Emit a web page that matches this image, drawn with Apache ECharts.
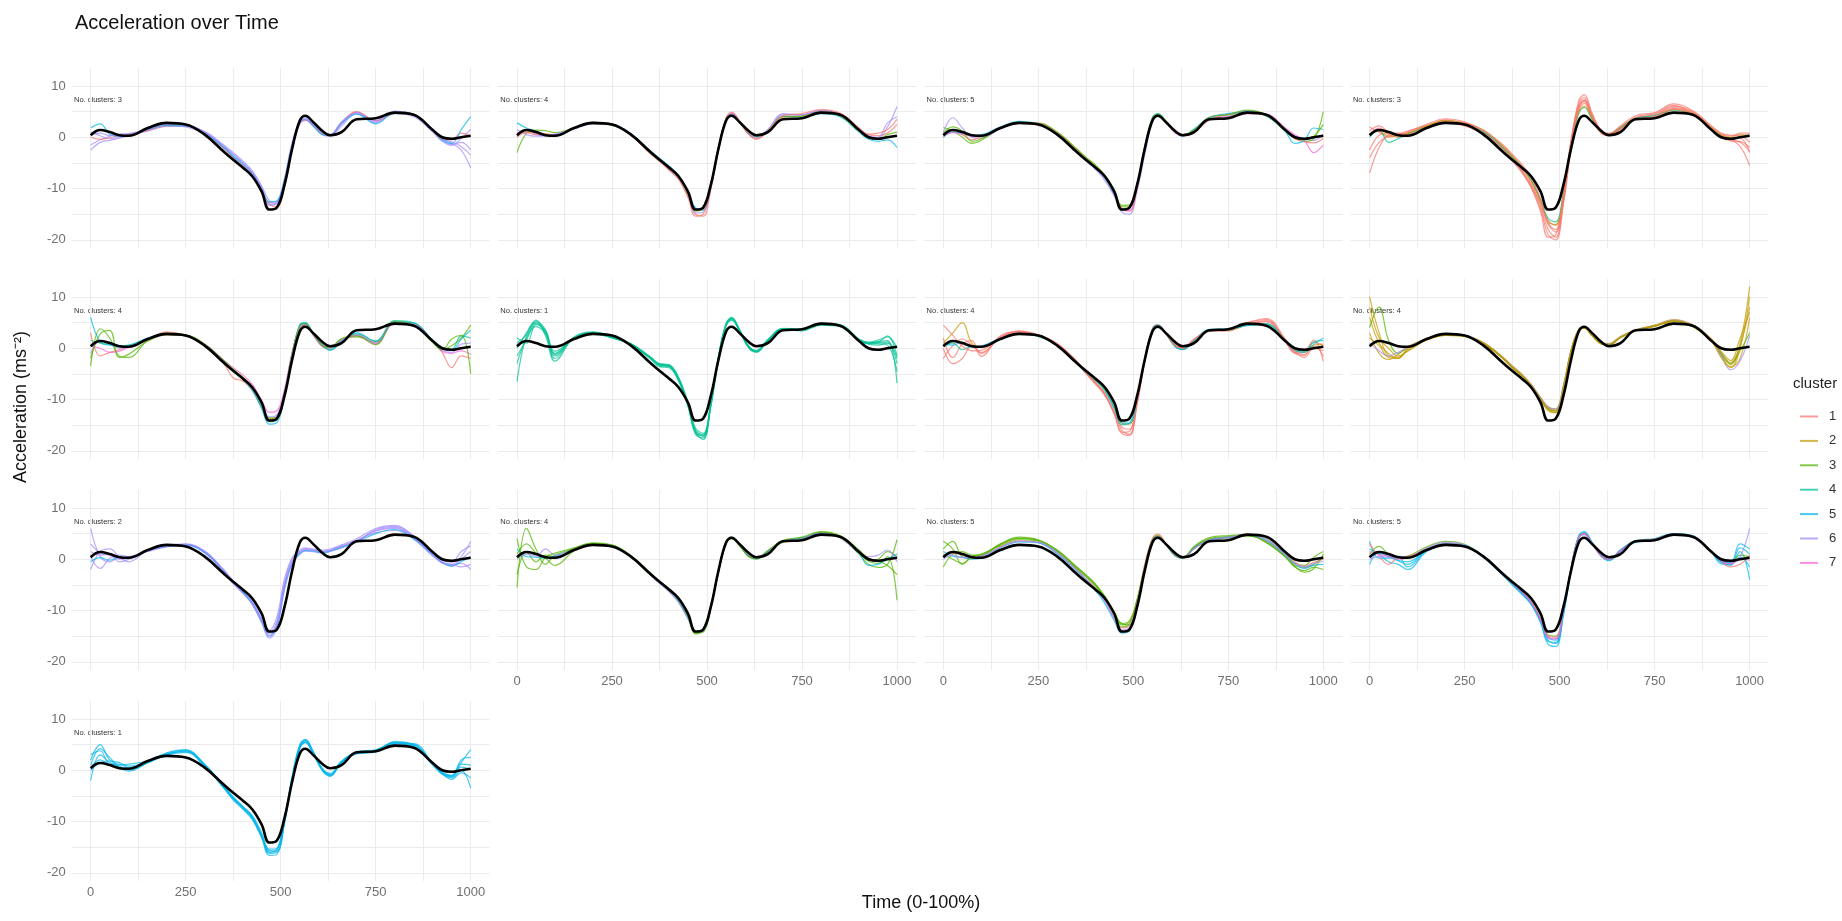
<!DOCTYPE html>
<html>
<head>
<meta charset="utf-8">
<title>Acceleration over Time</title>
<script src="https://cdn.jsdelivr.net/npm/echarts@6/dist/echarts.min.js"></script>
<style>
  html, body { margin: 0; padding: 0; background: #ffffff; }
  #chart { width: 1842px; height: 921px; }
</style>
</head>
<body>
<div id="chart"></div>
<script>
// Normalised time (0-1000) at which every curve is sampled
const timePoints = [0,25,50,75,100,150,200,250,300,350,375,400,425,450,470,490,510,530,550,565,585,610,630,660,700,750,800,850,900,925,950,975,1000];

// Overall mean acceleration curve (black line, same in every panel)
const meanCurve = [0.4,1.4,1.0,0.4,0.3,1.8,2.8,2.5,0.5,-2.8,-4.4,-5.9,-7.6,-10.6,-14.1,-13.7,-9.3,-2.3,3.2,4.2,3.0,1.2,0.4,1.0,3.5,3.7,4.8,4.4,1.4,0.0,-0.3,0.0,0.3];

const clusterIds = ['1','2','3','4','5','6','7'];
const clusterColors = ['#F8766D','#C49A00','#53B400','#00C094','#00B6EB','#A58AFF','#FB61D7'];
const clusterCounts = [3,4,5,3,4,1,4,4,2,4,5,5,1];

const xLabelTicks = [0,250,500,750,1000];
const xGridTicks = [0,125,250,375,500,625,750,875,1000];
const yLabelTicks = [-20,-10,0,10];
const yGridTicks = [-20,-15,-10,-5,0,5,10];

// Per-panel curves: [cluster, values at timePoints]
const panel01 = [
  [6,[-1.5,-0.5,0.2,0.5,0.6,1.4,2.3,2.2,0.9,-1.8,-3.4,-5.0,-6.8,-9.8,-12.8,-12.5,-8.5,-1.5,2.8,3.6,2.5,0.6,0.3,2.6,4.8,3.2,4.9,4.3,1.2,-0.6,-1.4,-1.0,-2.5]],
  [6,[1.0,0.3,-0.3,0.0,0.4,1.6,2.4,2.0,0.7,-2.0,-3.8,-5.4,-7.2,-10.4,-13.3,-12.8,-8.0,-1.0,3.0,3.8,2.8,0.9,0.5,3.0,4.9,2.8,4.6,4.0,1.0,-0.8,-1.6,-0.2,1.5]],
  [6,[-2.5,-1.0,-0.6,-0.2,0.3,1.2,2.1,2.1,1.1,-1.5,-3.0,-4.6,-6.5,-9.5,-12.4,-12.9,-9.0,-2.0,2.5,3.3,2.2,0.5,0.2,2.2,4.6,3.0,5.0,4.5,1.5,-0.3,-1.2,-2.5,-6.0]],
  [1,[0.0,-0.4,-0.1,0.3,0.5,1.3,2.2,2.3,0.8,-2.2,-4.0,-5.6,-7.5,-10.8,-13.0,-13.6,-9.6,-2.5,2.6,3.4,2.4,0.7,0.3,2.8,5.0,3.2,4.7,4.2,1.3,-0.4,-0.5,0.8,0.2]],
  [5,[1.8,2.6,0.6,0.2,0.3,1.5,2.3,2.2,0.8,-2.0,-3.7,-5.2,-7.0,-10.0,-12.6,-12.4,-8.3,-1.6,2.9,3.5,2.3,0.5,0.4,2.7,4.5,2.6,4.8,4.3,1.4,-0.5,-1.2,1.5,4.0]],
  [6,[0.5,0.8,0.3,0.6,0.7,1.6,2.5,2.4,1.0,-1.7,-3.3,-4.9,-6.9,-10.1,-13.1,-12.9,-8.8,-1.8,2.7,3.5,2.6,0.8,0.5,2.9,4.7,3.3,5.1,4.4,1.6,-0.2,-0.9,-1.8,-3.5]]
];
const panel02 = [
  [1,[0.8,1.0,0.8,0.5,0.5,1.9,2.8,2.4,0.4,-3.0,-4.6,-6.3,-8.1,-11.5,-15.0,-15.4,-10.2,-2.5,3.6,4.7,3.2,0.6,-0.3,1.2,3.9,4.2,5.0,4.6,1.8,0.5,0.3,0.8,2.5]],
  [6,[0.2,1.5,0.6,0.2,0.4,1.7,2.7,2.5,0.6,-2.7,-4.2,-5.8,-7.6,-10.8,-14.2,-14.0,-9.0,-1.9,3.4,4.4,3.0,0.8,0.1,1.4,4.4,4.3,5.3,4.4,1.4,0.1,-0.2,2.0,6.0]],
  [5,[2.8,1.8,1.2,0.5,0.4,1.8,2.9,2.6,0.7,-2.6,-4.1,-5.6,-7.4,-10.6,-13.8,-14.2,-9.5,-2.0,3.3,4.5,3.2,1.0,0.2,1.1,4.1,3.9,4.6,4.0,1.0,-0.4,-0.8,-0.5,-2.0]],
  [3,[-3.0,0.8,1.4,1.3,0.9,1.8,2.6,2.3,0.5,-3.1,-4.5,-6.0,-7.8,-11.2,-14.4,-14.0,-9.2,-2.2,3.5,4.3,2.9,0.6,0.0,1.3,4.0,4.1,5.0,4.2,1.2,0.2,-0.4,0.5,1.0]],
  [6,[1.5,0.5,0.2,0.4,0.6,1.6,2.6,2.4,0.6,-2.9,-4.4,-6.1,-7.9,-11.0,-14.8,-14.6,-9.8,-2.4,3.2,4.6,3.1,0.7,-0.1,1.5,4.6,4.4,5.2,4.5,1.6,0.3,0.0,2.8,4.0]],
  [1,[0.0,0.9,0.5,0.7,0.3,1.9,2.9,2.6,0.4,-3.2,-4.7,-6.4,-8.2,-11.8,-15.4,-15.0,-9.9,-2.6,3.7,4.9,3.3,0.5,-0.4,1.2,4.2,4.6,5.4,4.7,1.7,0.6,0.8,1.5,3.5]]
];
const panel03 = [
  [6,[1.0,3.8,1.8,0.0,-0.2,1.6,2.8,2.6,0.6,-2.7,-4.6,-6.2,-8.4,-11.5,-14.6,-15.0,-10.5,-3.5,2.8,4.2,3.0,1.1,0.3,1.4,3.9,4.3,5.2,4.3,1.5,0.3,-0.4,-0.6,0.5]],
  [3,[1.9,1.2,0.0,-1.2,-0.6,1.9,2.9,2.7,0.8,-2.4,-4.0,-5.4,-7.4,-10.3,-13.3,-13.2,-9.2,-2.0,3.8,4.4,2.9,1.0,0.4,1.5,3.6,4.0,5.0,4.1,1.3,-0.2,-0.8,-0.3,5.0]],
  [1,[0.5,1.5,0.5,-0.5,0.1,1.7,2.7,2.8,0.9,-2.3,-4.2,-5.8,-7.9,-11.0,-13.8,-14.4,-10.0,-2.8,3.3,4.3,3.1,0.9,0.5,1.1,3.3,4.5,4.9,4.4,1.4,-0.3,-0.9,-1.1,-0.2]],
  [5,[0.0,1.0,0.8,0.4,0.5,2.0,3.1,2.6,0.5,-2.8,-4.4,-6.0,-8.0,-11.2,-14.0,-13.8,-9.6,-2.4,3.6,4.6,3.2,1.0,0.2,1.6,3.8,4.6,5.0,4.2,1.1,-1.2,-0.6,1.8,1.5]],
  [7,[0.2,0.9,0.6,0.2,0.3,1.8,2.7,2.5,0.6,-2.9,-4.5,-6.0,-7.8,-11.0,-14.2,-14.3,-9.7,-2.6,3.2,4.1,2.9,0.8,0.3,1.2,3.5,4.0,4.6,4.5,1.8,0.5,-0.6,-3.0,-1.5]],
  [3,[0.8,2.0,1.2,-0.8,-0.3,1.7,2.8,2.7,1.0,-2.2,-3.9,-5.5,-7.6,-10.8,-13.5,-13.6,-9.0,-1.8,3.5,4.5,3.3,1.1,0.5,1.4,3.9,4.4,5.3,4.4,1.2,-0.1,-0.5,0.2,2.5]]
];
const panel04 = [
  [1,[-7.0,-2.0,0.5,0.8,0.6,2.0,3.0,2.6,1.2,-2.0,-4.0,-6.2,-9.0,-13.5,-18.0,-19.5,-12.0,-1.0,6.5,7.8,4.5,1.0,0.6,1.8,3.6,4.0,5.6,4.8,2.0,0.6,-0.4,-1.8,-5.5]],
  [1,[0.5,1.8,0.6,0.0,0.8,2.2,3.2,2.4,0.8,-2.5,-4.4,-6.6,-9.4,-13.0,-17.0,-18.5,-12.8,-2.0,5.5,7.0,4.0,0.8,0.5,1.5,3.8,4.2,6.0,5.0,1.6,0.0,-0.7,-0.8,-2.0]],
  [1,[2.0,1.0,0.0,0.6,1.2,2.3,3.1,2.8,1.0,-1.6,-3.5,-5.6,-8.2,-12.4,-16.2,-17.2,-11.0,-0.5,6.0,7.4,4.2,1.2,0.8,2.0,3.9,4.6,6.2,4.6,1.8,0.5,0.2,0.8,0.8]],
  [1,[-2.5,0.4,0.8,0.3,0.7,2.1,3.4,2.6,0.8,-2.2,-4.2,-6.5,-9.6,-14.0,-19.0,-20.0,-13.0,-2.3,5.0,6.6,3.8,0.7,0.3,1.6,3.7,4.4,5.8,4.8,1.7,0.2,-0.2,-0.2,-3.0]],
  [4,[0.0,1.5,-1.0,-0.3,0.6,2.0,2.9,2.4,1.0,-2.0,-3.8,-5.8,-8.4,-12.2,-15.8,-16.5,-10.6,-1.5,4.6,5.8,3.6,1.0,0.6,1.9,3.7,4.2,5.3,4.5,1.5,0.2,-0.5,0.0,0.2]],
  [2,[0.6,1.2,0.2,0.3,0.7,2.2,3.3,2.7,1.4,-1.8,-3.7,-5.8,-8.6,-12.6,-16.5,-17.0,-11.2,-1.2,4.8,6.0,3.7,0.9,0.6,1.7,3.6,3.8,5.4,4.6,1.8,0.4,0.0,0.5,0.4]],
  [1,[1.2,2.2,1.0,0.5,1.0,2.5,3.6,3.0,1.3,-1.4,-3.3,-5.2,-7.8,-12.0,-16.8,-18.0,-12.2,-1.2,7.0,8.3,4.8,1.3,0.7,2.2,4.2,4.8,6.5,5.2,2.2,0.8,0.4,0.3,-1.0]],
  [1,[-4.0,-1.0,0.2,0.7,0.5,1.9,2.8,2.2,0.6,-2.6,-4.6,-6.8,-9.8,-14.5,-19.5,-19.0,-11.5,-1.8,5.8,7.2,4.3,0.9,0.4,1.6,3.5,4.0,5.5,4.4,1.4,0.1,-0.6,-1.0,-2.8]]
];
const panel05 = [
  [3,[-3.5,3.8,2.0,-1.5,-1.8,1.5,2.8,2.6,0.7,-2.5,-4.2,-5.8,-7.8,-11.0,-13.8,-13.5,-8.8,-1.0,4.2,4.8,2.8,0.6,0.2,1.8,2.2,1.2,5.0,4.8,1.4,-0.2,0.5,2.0,4.5]],
  [1,[3.0,-1.5,-0.8,-0.3,0.4,1.8,3.2,2.5,0.4,-3.0,-5.8,-6.4,-8.2,-11.6,-13.8,-13.2,-8.5,-1.2,4.0,4.5,2.6,0.3,-0.2,1.5,2.6,1.0,4.8,4.6,1.2,-0.8,-3.8,-1.5,-2.0]],
  [5,[6.0,1.2,0.6,0.3,0.5,2.0,2.8,2.4,0.5,-2.8,-4.5,-6.0,-8.2,-11.8,-14.8,-14.5,-9.4,-1.6,4.6,5.0,3.0,0.6,-0.4,1.2,3.0,1.4,5.2,4.9,1.6,0.0,-0.4,1.8,3.5]],
  [7,[0.4,0.0,-0.8,-0.6,0.2,1.6,2.6,2.4,0.8,-2.3,-3.8,-5.2,-7.0,-10.2,-12.5,-12.2,-8.0,-0.8,4.0,4.6,2.6,0.4,0.2,1.6,2.4,0.8,4.8,4.6,1.3,-0.6,-1.0,-0.5,-1.2]],
  [4,[1.5,1.0,0.8,0.5,0.6,1.9,2.9,2.5,0.6,-2.6,-4.3,-5.9,-7.9,-11.3,-14.3,-14.0,-9.0,-1.3,4.4,4.9,2.9,0.5,-0.3,1.4,2.8,1.4,5.4,5.0,1.5,0.2,-0.2,2.4,2.0]],
  [6,[-1.0,1.5,1.2,0.0,0.2,1.7,2.7,2.4,0.7,-2.6,-4.4,-5.9,-7.8,-10.8,-13.4,-13.0,-8.5,-1.1,4.1,4.6,2.7,0.5,0.0,1.6,2.6,1.0,5.0,4.7,1.4,-0.4,-0.8,0.8,1.0]],
  [3,[-2.0,2.8,3.5,-1.8,-1.2,1.4,2.6,2.5,0.8,-2.4,-4.1,-5.6,-7.6,-10.9,-13.6,-13.6,-9.0,-1.2,4.3,4.8,2.8,0.5,0.1,1.9,2.4,0.7,5.2,4.5,1.1,-0.3,1.8,2.5,-5.0]]
];
const panel06 = [
  [4,[-6.5,2.5,5.0,3.0,-1.5,2.0,3.0,2.0,0.8,-1.8,-3.2,-3.4,-6.0,-11.0,-16.2,-17.2,-11.0,-2.0,4.5,5.8,3.5,0.2,-0.6,1.5,3.8,3.6,4.7,4.4,1.6,1.0,1.3,1.5,-6.8]],
  [4,[0.0,3.0,5.5,2.4,-2.5,2.2,3.2,2.2,0.6,-2.0,-3.6,-3.8,-6.4,-11.4,-16.8,-17.5,-11.5,-2.5,4.3,5.5,3.4,0.0,-0.8,1.4,3.6,3.4,4.5,4.2,1.4,0.8,0.6,1.0,-3.0]],
  [4,[2.0,1.0,4.6,3.4,-0.6,1.8,2.8,2.0,0.9,-1.6,-3.0,-3.2,-5.6,-10.6,-15.6,-16.6,-10.6,-1.6,4.8,6.0,3.8,0.4,-0.4,1.7,3.9,3.8,4.8,4.6,1.8,1.2,1.6,2.2,0.0]],
  [4,[-3.0,2.0,4.2,2.8,-1.0,2.1,2.9,2.1,0.7,-1.9,-3.4,-3.6,-6.2,-11.2,-16.4,-17.8,-11.2,-1.8,4.6,5.7,3.6,0.1,-0.7,1.6,3.7,3.5,4.6,4.3,1.5,0.9,0.9,0.6,-4.5]],
  [4,[1.0,2.6,5.2,3.6,-1.2,1.9,3.1,2.3,0.8,-1.7,-3.1,-3.3,-5.8,-10.8,-16.0,-16.9,-10.8,-1.7,4.7,5.9,3.6,0.3,-0.5,1.5,3.8,3.7,4.9,4.5,1.7,1.1,1.2,2.4,-1.5]],
  [4,[-1.5,1.6,4.8,3.2,-2.0,2.0,3.0,2.1,0.8,-1.8,-3.3,-3.5,-6.0,-11.0,-16.6,-17.0,-11.0,-2.1,4.4,5.6,3.5,0.2,-0.6,1.5,3.7,3.6,4.6,4.4,1.5,0.9,1.1,1.2,-2.0]]
];
const panel07 = [
  [1,[0.0,-3.0,-2.0,0.5,-1.0,2.2,3.4,2.6,0.8,-2.4,-4.6,-6.6,-8.8,-12.4,-16.0,-16.8,-10.8,-2.2,3.6,4.4,3.0,0.6,0.0,1.6,3.5,3.6,4.9,5.6,1.6,-0.8,-1.2,0.4,-1.5]],
  [1,[2.0,-1.8,0.8,1.5,-1.6,2.4,3.2,2.4,0.7,-2.6,-4.8,-6.8,-9.0,-12.8,-16.4,-16.2,-10.2,-2.0,3.8,4.6,3.1,0.8,0.2,1.8,3.3,3.4,4.6,5.4,1.4,-1.0,-1.4,1.2,0.5]],
  [1,[-2.0,0.5,1.8,0.6,-0.8,2.0,3.1,2.5,0.6,-2.7,-4.9,-7.0,-9.2,-12.6,-15.4,-15.8,-10.4,-2.6,3.4,4.2,2.8,0.4,-0.2,1.5,3.4,3.7,4.7,5.2,1.2,-0.9,-0.6,1.6,-2.5]],
  [2,[1.0,3.0,5.0,1.0,0.2,1.8,2.9,2.4,0.5,-2.8,-4.5,-6.2,-8.1,-11.6,-14.6,-14.8,-9.8,-2.4,3.4,4.3,2.9,0.5,0.0,1.4,3.6,3.5,4.6,4.8,1.5,-0.4,-0.8,0.6,0.8]],
  [4,[0.5,1.0,-0.3,0.4,0.3,1.8,2.8,2.3,0.5,-2.9,-4.7,-6.3,-8.3,-11.8,-14.9,-14.6,-9.6,-2.3,3.5,4.4,3.0,0.4,-0.3,1.3,3.4,3.6,4.5,4.6,1.3,-0.2,-0.6,1.2,1.5]],
  [5,[0.8,0.6,1.2,0.2,0.4,1.9,2.9,2.5,0.6,-2.7,-4.5,-6.1,-8.0,-11.5,-14.5,-14.6,-9.7,-2.1,3.6,4.5,3.0,0.3,-0.2,1.5,3.7,3.8,4.4,4.8,1.4,-0.5,-0.8,0.8,2.0]],
  [1,[4.5,2.5,0.4,-0.5,-0.4,2.1,3.3,2.6,0.9,-2.5,-4.7,-6.7,-8.9,-12.8,-16.6,-17.0,-11.0,-2.8,3.3,4.3,2.9,0.5,0.1,1.7,3.5,3.7,5.0,5.8,1.8,-0.6,-1.8,0.0,-0.5]]
];
const panel08 = [
  [2,[10.0,3.0,-1.5,-1.8,-0.5,1.8,2.6,2.4,1.0,-1.8,-3.6,-5.2,-7.2,-9.8,-11.6,-12.0,-7.5,-0.5,3.6,4.0,2.6,1.0,0.8,2.2,3.5,4.4,5.4,4.4,1.6,-1.2,-3.2,1.0,12.0]],
  [2,[6.0,1.0,-1.0,-2.0,-0.2,1.6,2.5,2.3,0.9,-2.0,-3.8,-5.4,-7.4,-10.0,-12.0,-12.5,-8.0,-0.8,3.4,3.9,2.4,0.8,0.6,2.0,3.4,4.2,5.2,4.2,1.3,-1.5,-3.6,-2.0,6.0]],
  [2,[3.0,-1.0,-2.2,-1.2,0.3,1.9,2.7,2.4,1.1,-1.7,-3.4,-5.0,-7.0,-9.6,-11.4,-11.8,-7.2,-0.4,3.7,4.1,2.7,1.1,0.9,2.3,3.6,4.5,5.6,4.6,1.8,-0.8,-2.8,0.5,8.0]],
  [3,[4.0,8.0,1.5,-1.0,0.1,1.7,2.6,2.3,0.8,-1.9,-3.7,-5.3,-7.3,-9.9,-11.8,-12.2,-7.7,-0.6,3.5,4.0,2.5,0.9,0.7,2.1,3.4,4.3,5.3,4.3,1.5,-1.0,-3.0,-0.5,3.0]],
  [6,[1.0,-0.5,-1.5,-0.8,0.2,1.8,2.7,2.5,1.0,-1.8,-3.5,-5.1,-7.1,-9.7,-11.5,-11.9,-7.4,-0.5,3.6,4.0,2.6,1.0,0.8,2.2,3.5,4.4,5.5,4.5,1.6,-1.4,-4.2,-2.5,2.5]],
  [2,[8.0,2.0,0.0,-1.5,-0.6,1.6,2.5,2.3,0.9,-1.9,-3.7,-5.3,-7.3,-10.0,-12.2,-12.6,-8.2,-0.8,3.5,3.9,2.5,0.9,0.7,2.1,3.4,4.3,5.3,4.3,1.4,-1.8,-3.8,0.0,10.0]],
  [2,[2.0,0.5,-1.8,-2.0,0.0,1.7,2.6,2.4,1.0,-1.8,-3.6,-5.2,-7.2,-9.9,-11.8,-12.3,-7.8,-0.6,3.5,4.0,2.6,0.9,0.7,2.2,3.5,4.4,5.4,4.4,1.6,-0.6,-2.4,2.0,7.0]]
];
const panel09 = [
  [6,[6.0,0.5,-0.5,0.3,0.2,1.6,2.6,2.9,1.4,-2.4,-4.6,-6.4,-8.5,-12.0,-14.6,-12.5,-5.0,-0.5,1.2,1.8,1.7,1.4,1.6,2.4,3.5,5.5,6.0,4.2,0.8,-0.5,-1.0,0.5,3.5]],
  [6,[-2.0,1.5,2.0,0.5,-0.5,1.7,2.5,2.8,1.2,-2.6,-4.8,-6.6,-8.8,-12.4,-15.4,-13.5,-6.0,-1.0,1.0,1.6,1.5,1.2,1.5,2.2,3.3,5.8,6.4,4.6,1.0,-0.8,-1.2,-0.8,-2.0]],
  [6,[0.5,-1.8,0.2,0.8,0.5,1.5,2.4,2.7,1.5,-2.2,-4.4,-6.2,-8.3,-11.8,-14.2,-12.0,-4.5,0.0,1.5,2.0,1.9,1.6,1.8,2.6,3.7,5.2,5.6,3.9,0.6,-0.6,-1.4,0.0,1.5]],
  [6,[1.5,0.8,1.0,-0.5,0.0,1.8,2.7,3.0,1.6,-2.0,-4.2,-6.0,-8.0,-11.5,-13.8,-11.2,-3.8,0.3,1.8,2.2,2.0,1.8,2.0,2.8,4.0,6.0,6.6,4.4,1.2,-0.2,-0.6,1.5,2.6]],
  [5,[-0.5,0.3,-0.2,0.4,0.3,1.7,2.5,2.8,1.3,-2.3,-4.5,-6.3,-8.6,-12.2,-15.0,-13.0,-5.5,-0.8,1.1,1.7,1.6,1.3,1.6,2.3,3.4,5.0,5.8,4.0,0.9,-0.7,-1.3,-0.5,0.5]],
  [6,[3.0,1.2,0.8,0.0,0.4,1.6,2.6,2.9,1.5,-2.3,-4.6,-6.6,-8.7,-12.1,-15.0,-12.8,-5.2,-0.6,1.4,1.9,1.8,1.5,1.7,2.5,3.6,5.6,6.2,4.3,0.9,-0.7,-1.0,-1.5,-1.0]]
];
const panel10 = [
  [3,[-5.5,6.0,2.0,-1.0,0.8,2.0,3.0,2.6,0.4,-3.0,-4.6,-6.2,-8.3,-11.6,-14.6,-13.8,-9.2,-2.4,3.2,4.2,2.8,0.6,0.1,1.5,3.4,4.0,5.2,4.4,1.4,-0.4,-0.8,0.5,-8.0]],
  [3,[1.0,3.0,1.2,0.2,-1.2,1.6,2.9,2.7,0.5,-2.9,-4.5,-6.0,-8.0,-11.2,-14.2,-13.8,-9.4,-2.6,3.3,4.3,2.9,0.8,0.3,1.6,3.6,4.1,5.0,4.2,1.0,-1.0,-1.6,-1.0,3.8]],
  [3,[-3.0,1.5,-0.5,0.8,0.5,2.1,3.1,2.7,0.6,-2.8,-4.4,-5.9,-7.8,-11.0,-14.0,-13.6,-9.0,-2.2,3.4,4.0,2.7,0.5,0.0,1.4,3.3,3.9,5.3,4.5,1.6,-0.2,0.0,1.5,0.5]],
  [5,[2.0,0.5,0.4,0.2,0.6,1.9,2.9,2.5,0.5,-2.9,-4.6,-6.1,-8.1,-11.4,-14.2,-14.0,-9.4,-2.3,3.2,4.1,2.8,0.6,0.1,1.5,3.5,4.2,5.0,4.3,1.2,-1.2,-1.0,0.0,1.0]],
  [6,[0.0,1.0,0.6,2.0,0.8,1.8,2.8,2.6,0.5,-3.0,-4.7,-6.3,-8.4,-11.6,-14.1,-13.9,-9.3,-2.5,3.3,4.2,2.9,0.7,0.2,1.6,3.5,4.0,5.1,4.2,1.3,0.5,0.8,1.8,-0.5]],
  [3,[4.0,-1.5,-2.0,0.4,1.2,2.2,3.2,2.8,0.7,-2.6,-4.3,-5.8,-7.7,-11.0,-14.4,-14.2,-9.6,-2.6,3.1,4.0,2.7,0.5,0.2,1.7,3.7,4.3,5.4,4.6,1.8,0.2,-0.4,-1.2,-3.0]]
];
const panel11 = [
  [3,[2.0,3.5,0.5,0.2,0.6,2.8,4.0,3.6,1.6,-1.6,-3.2,-5.0,-7.4,-10.6,-12.8,-12.2,-8.0,-1.5,3.6,4.4,3.0,0.8,0.3,2.2,3.8,4.2,4.6,3.4,0.6,-1.2,-1.6,-1.0,0.5]],
  [3,[-1.5,1.0,1.5,0.8,0.8,3.0,4.3,3.8,1.8,-1.4,-3.0,-4.8,-7.2,-10.4,-12.6,-12.8,-8.6,-1.8,3.4,4.3,2.9,0.6,0.2,2.4,4.0,4.4,4.8,3.2,0.4,-1.5,-2.2,-1.6,-2.0]],
  [3,[1.0,0.0,-0.8,0.4,1.0,2.6,3.8,3.5,1.4,-1.8,-3.4,-5.2,-7.6,-10.8,-13.2,-12.6,-8.2,-1.4,3.8,4.6,3.1,0.9,0.4,2.3,3.9,4.3,4.5,3.6,0.9,-0.8,-1.2,0.4,1.5]],
  [1,[0.5,1.2,0.8,0.2,0.4,2.4,3.6,3.3,1.2,-2.0,-3.8,-5.6,-8.0,-11.4,-13.4,-13.0,-8.0,-1.0,4.0,4.9,3.2,0.8,0.2,2.0,3.6,4.1,4.9,4.0,1.2,-0.5,-1.4,-0.6,0.0]],
  [5,[1.5,0.6,0.4,0.0,0.2,2.2,3.4,3.2,1.0,-2.2,-4.0,-6.0,-8.6,-12.0,-14.4,-14.0,-9.2,-2.0,3.5,4.4,3.0,0.7,0.2,2.1,3.7,4.2,4.7,3.8,0.8,-0.9,-1.8,-1.2,-1.0]],
  [3,[3.5,2.0,-1.0,0.6,0.9,2.9,4.1,3.7,1.7,-1.5,-3.1,-4.9,-7.3,-10.5,-12.5,-12.0,-7.8,-1.6,3.7,4.5,3.0,0.8,0.3,2.5,4.2,4.6,4.8,3.3,0.5,-1.4,-2.5,-1.8,1.0]],
  [6,[0.0,0.8,0.3,0.4,0.6,2.3,3.5,3.3,1.3,-2.1,-3.9,-5.8,-8.2,-11.6,-13.8,-13.4,-8.8,-1.9,3.5,4.4,3.0,0.7,0.3,2.1,3.8,4.3,4.8,3.6,0.8,-0.9,-1.5,-0.8,-0.4]]
];
const panel12 = [
  [5,[2.0,1.0,-0.5,-1.0,-2.0,1.5,2.8,2.6,0.4,-3.0,-4.8,-6.6,-8.6,-12.0,-15.8,-16.4,-10.5,-2.0,4.2,5.0,3.2,0.6,-0.2,1.6,3.4,3.8,4.8,4.4,1.6,-0.4,-0.8,1.5,-4.0]],
  [5,[-1.0,1.5,0.8,-0.3,-1.0,1.8,3.0,2.7,0.5,-2.9,-4.6,-6.4,-8.4,-11.8,-15.2,-15.8,-10.2,-1.8,4.4,5.2,3.3,0.7,0.0,1.7,3.5,3.9,5.0,4.6,1.4,-0.6,-1.2,2.2,1.0]],
  [5,[3.5,0.2,0.2,0.5,-1.5,1.6,2.7,2.5,0.3,-3.1,-5.0,-6.8,-8.8,-12.4,-16.6,-17.0,-11.0,-2.4,4.0,4.8,3.1,0.5,-0.3,1.5,3.3,3.7,4.7,4.3,1.3,-0.9,-1.0,0.4,-1.5]],
  [3,[1.0,2.5,1.0,0.4,0.6,2.4,3.5,2.9,0.6,-2.8,-4.5,-6.2,-8.2,-11.6,-14.8,-15.0,-9.8,-1.6,4.4,5.0,3.2,0.6,0.0,1.8,3.6,4.0,4.9,4.4,1.6,-0.3,-0.6,0.8,0.5]],
  [1,[3.0,0.6,-1.0,0.3,0.5,2.0,3.1,2.7,0.5,-3.0,-4.6,-6.3,-8.3,-11.7,-15.0,-15.2,-10.0,-1.9,4.2,4.9,3.1,0.6,-0.1,1.7,3.5,3.9,4.8,4.5,1.5,-0.5,-1.5,-1.0,0.8]],
  [6,[0.0,0.5,0.4,0.6,0.4,2.2,3.3,2.8,0.5,-2.9,-4.6,-6.4,-8.4,-11.8,-15.4,-15.6,-10.2,-1.8,4.3,5.1,3.2,0.6,0.0,1.7,3.5,3.9,4.9,4.5,1.5,-0.4,-0.8,0.5,6.0]],
  [5,[0.5,1.2,0.5,-0.2,-0.5,1.8,3.0,2.7,0.4,-3.0,-4.7,-6.5,-8.6,-12.2,-16.0,-16.2,-10.6,-2.1,4.6,5.4,3.4,0.7,-0.1,1.8,3.6,4.0,5.0,4.5,1.4,-0.5,-0.6,3.0,2.0]],
  [7,[1.5,0.9,0.6,0.0,0.2,1.9,2.9,2.6,0.4,-2.9,-4.6,-6.3,-8.4,-11.8,-15.2,-15.5,-10.0,-1.9,4.1,4.9,3.1,0.6,0.0,1.6,3.5,3.9,4.9,4.4,1.5,-0.3,-0.9,0.0,-0.2]]
];
const panel13 = [
  [5,[2.0,5.0,2.0,1.5,0.8,1.6,3.2,3.6,0.8,-3.4,-5.6,-7.2,-9.0,-12.6,-15.8,-15.4,-9.6,-1.6,4.6,5.8,3.6,0.2,-0.8,1.6,3.4,3.8,5.4,5.0,1.2,-0.6,-1.2,1.5,4.0]],
  [5,[-2.0,3.0,1.5,0.8,0.0,1.4,3.0,3.8,1.0,-3.2,-5.4,-7.4,-9.4,-13.0,-16.2,-16.0,-10.0,-1.8,4.4,5.6,3.4,0.0,-1.0,1.4,3.2,3.5,5.6,4.8,1.0,-0.8,-1.5,0.0,-3.5]],
  [5,[1.0,4.2,2.5,1.0,1.2,1.8,3.4,4.0,1.2,-3.0,-5.2,-7.0,-8.8,-12.2,-15.4,-15.2,-9.2,-1.2,5.0,6.0,3.8,0.3,-0.6,1.8,3.6,4.0,5.2,5.2,1.4,-0.4,-1.0,1.2,1.0]],
  [5,[0.5,2.0,1.0,0.6,0.4,1.5,3.1,3.7,0.9,-3.5,-5.8,-7.6,-9.6,-13.2,-16.6,-16.4,-10.4,-2.0,4.2,5.4,3.2,-0.2,-1.2,1.5,3.3,3.6,5.0,4.9,1.1,-0.7,-1.8,-0.5,-1.5]],
  [5,[3.0,3.8,1.2,1.2,0.5,1.7,3.3,3.9,1.1,-3.1,-5.3,-7.1,-9.1,-12.8,-16.0,-15.6,-9.8,-1.5,4.8,5.9,3.6,0.1,-0.9,1.7,3.5,3.9,5.5,5.1,1.3,-0.5,-1.1,2.0,2.5]],
  [5,[0.0,1.5,1.8,0.5,-0.2,1.5,3.0,3.5,0.7,-3.3,-5.5,-7.3,-9.2,-12.9,-15.6,-15.8,-10.2,-1.9,4.3,5.5,3.3,0.1,-1.1,1.6,3.4,3.7,5.3,4.7,1.2,-0.7,-1.3,0.6,0.2]]
];

const panels = [panel01,panel02,panel03,panel04,panel05,panel06,panel07,panel08,panel09,panel10,panel11,panel12,panel13];

// Facet layout (4 columns, panels wrap row by row)
const NCOL = 4;
const PANEL_LEFT = 71.7, COL_STEP = 426.3, PANEL_W = 418;
const PANEL_TOP = 68, ROW_STEP = 211, PANEL_H = 180;
const GRID_COLOR = '#ebebeb';
const TICK_TEXT = '#707070';
const FONT = 'Liberation Sans, Arial, sans-serif';

function toPairs(values) {
  const n = Math.min(values.length, timePoints.length);
  const out = [];
  for (let i = 0; i < n; i++) out.push([timePoints[i], values[i]]);
  return out;
}

const grids = [], xAxes = [], yAxes = [], series = [], graphics = [];
const nPanels = panels.length;

panels.forEach((curves, p) => {
  const col = p % NCOL, row = Math.floor(p / NCOL);
  const left = PANEL_LEFT + col * COL_STEP;
  const top = PANEL_TOP + row * ROW_STEP;
  grids.push({ left: left, top: top, width: PANEL_W, height: PANEL_H, containLabel: false });

  // x labels only where no panel sits below
  const showX = (p + NCOL) >= nPanels;
  const showY = col === 0;

  xAxes.push({
    type: 'value', gridIndex: p, min: -50, max: 1050,
    axisLine: { show: false },
    axisTick: { show: false, customValues: xGridTicks },
    splitLine: { show: true, lineStyle: { color: GRID_COLOR, width: 1 } },
    axisLabel: { show: showX, customValues: xLabelTicks, color: TICK_TEXT, fontSize: 13,
                 fontFamily: FONT, margin: 5, formatter: v => String(v) }
  });
  yAxes.push({
    type: 'value', gridIndex: p, min: -21.6, max: 13.5,
    axisLine: { show: false },
    axisTick: { show: false, customValues: yGridTicks },
    splitLine: { show: true, lineStyle: { color: GRID_COLOR, width: 1 } },
    axisLabel: { show: showY, customValues: yLabelTicks, color: TICK_TEXT, fontSize: 13,
                 fontFamily: FONT, margin: 6, formatter: v => String(v) }
  });

  curves.forEach(([cl, vals]) => {
    const color = clusterColors[cl - 1];
    series.push({
      type: 'line', name: clusterIds[cl - 1], xAxisIndex: p, yAxisIndex: p,
      data: toPairs(vals), smooth: 0.4, showSymbol: false, symbol: 'none',
      lineStyle: { color: color, width: 1.2, opacity: 0.72 },
      itemStyle: { color: color, opacity: 0.72 },
      emphasis: { disabled: true }, silent: true, z: 2
    });
  });

  series.push({
    type: 'line', name: 'mean', xAxisIndex: p, yAxisIndex: p,
    data: toPairs(meanCurve), smooth: 0.4, showSymbol: false, symbol: 'none',
    lineStyle: { color: '#000000', width: 2.6 },
    itemStyle: { color: '#000000' },
    emphasis: { disabled: true }, silent: true, z: 5
  });

  graphics.push({
    type: 'text', left: left + 2.3, top: top + 27.5, silent: true,
    style: { text: 'No. clusters: ' + clusterCounts[p], fill: '#333333', fontSize: 7.5, fontFamily: FONT }
  });
});

// Axis titles and legend heading
graphics.push({
  type: 'text', left: 'center', top: 894, silent: true,
  style: { text: 'Time (0-100%)', fill: '#111111', fontSize: 18, fontFamily: FONT }
}, {
  type: 'text', x: 21, y: 407, rotation: Math.PI / 2, silent: true,
  style: { text: 'Acceleration (ms\u207B\u00B2)', fill: '#111111', fontSize: 18,
           fontFamily: FONT, align: 'center', verticalAlign: 'middle' }
}, {
  type: 'text', left: 1793, top: 376, silent: true,
  style: { text: 'cluster', fill: '#222222', fontSize: 15, fontFamily: FONT }
});

const option = {
  animation: false,
  backgroundColor: '#ffffff',
  title: {
    text: 'Acceleration over Time', left: 70, top: 8,
    textStyle: { color: '#111111', fontSize: 20, fontWeight: 'normal', fontFamily: FONT }
  },
  legend: {
    data: clusterIds, orient: 'vertical', left: 1795, top: 405,
    icon: 'rect', itemWidth: 18, itemHeight: 2, itemGap: 11.4,
    selectedMode: false,
    textStyle: { color: '#333333', fontSize: 13, padding: [0, 0, 0, 6], fontFamily: FONT }
  },
  grid: grids,
  xAxis: xAxes,
  yAxis: yAxes,
  series: series,
  graphic: graphics
};

const chart = echarts.init(document.getElementById('chart'), null, { renderer: 'canvas' });
chart.setOption(option);
</script>
</body>
</html>
